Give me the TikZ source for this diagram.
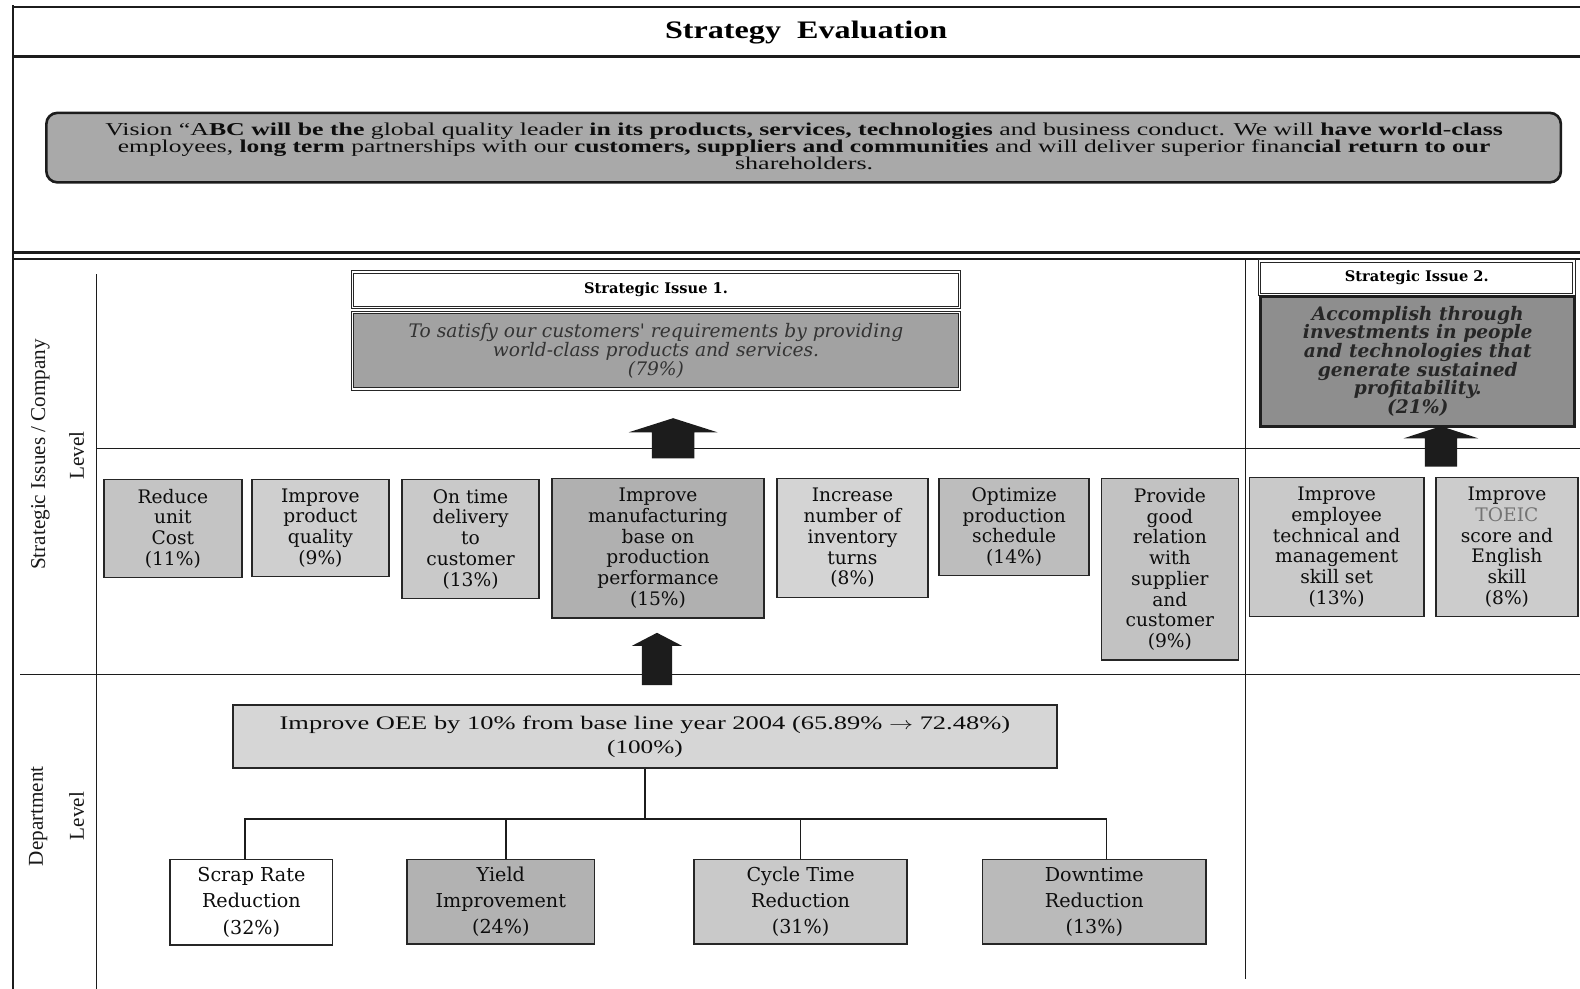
\documentclass[tikz,border=0pt]{standalone}
\usepackage{fontspec}
\setmainfont{Liberation Serif}
\newfontfamily\bkfont{DejaVu Serif}
\usetikzlibrary{calc}

\definecolor{ink}{HTML}{1C1C1C}
\definecolor{visionfill}{HTML}{A9A9A9}
\definecolor{sionefill}{HTML}{A2A2A2}
\definecolor{sitwofill}{HTML}{8E8E8E}
\definecolor{oeefill}{HTML}{D6D6D6}

% stretch a line of text to a given width, keeping its height
\newcommand{\fitw}[2]{\resizebox{#1}{\height}{#2}}
% solid up-pointing block arrow: x, bottom y, shaft half width, head half width, head base y, tip y
\newcommand{\blkarrow}[6]{%
  \fill[ink] ({#1-#3},#2) -- ({#1-#3},#5) -- ({#1-#4},#5) -- (#1,#6)
    -- ({#1+#4},#5) -- ({#1+#3},#5) -- ({#1+#3},#2) -- cycle;}

\begin{document}
\begin{tikzpicture}[x=1pt,y=-1pt,
  rule/.style={draw=ink, line width=1.2pt},
  wire/.style={draw=ink, line width=1.3pt},
  cbox/.style={draw=black!85, line width=1.6pt, align=center, inner sep=0pt,
    font=\bkfont\fontsize{18.5}{20.6}\selectfont, text=black!95},
  dbox/.style={draw=black!85, line width=1.6pt, align=center, inner sep=0pt,
    font=\bkfont\fontsize{19}{26}\selectfont, text=black!95},
  dblbox/.style={draw=black!85, double=white, double distance=1.4pt,
    line width=1pt, inner sep=0pt, align=center},
  sidelabel/.style={rotate=90, font=\fontsize{21}{22}\selectfont, text=black!90}
]
\useasboundingbox (0,0) rectangle (1568,981);
\fill[white] (0,0) rectangle (1568,981);

% ---------- frame and section rules ----------
\draw[ink, line width=2pt] (12,7) -- (1568,7);
\draw[ink, line width=3pt] (12,56) -- (1568,56);
\draw[ink, line width=2.6pt] (13,5) -- (13,981);
\draw[ink, line width=3pt] (13,251) -- (1568,251);
\draw[ink, line width=1.5pt] (13,257) -- (1568,257);
\draw[rule] (96,272) -- (96,981);
\draw[rule] (96,445) -- (1568,445);
\draw[rule] (20,669) -- (1568,669);
\draw[rule] (1236,258) -- (1236,972);

% ---------- title ----------
\node[font=\bfseries\fontsize{25}{25}\selectfont] (title) at (800,32)
  {\fitw{280pt}{Strategy\enspace Evaluation}};

% ---------- vision ----------
\node[draw=ink, line width=2.6pt, fill=visionfill, rounded corners=11pt,
  minimum width=1503pt, minimum height=69pt, inner sep=0pt] (vision) at (797.5,146.5) {};
\node[align=center, inner sep=0pt, text=black!95,
  font=\fontsize{18}{16.5}\selectfont] (visiontext) at (798,145)
  {\fitw{1387pt}{Vision “A\textbf{BC will be the} global quality leader \textbf{in its products, services, technologies} and business conduct. We will \textbf{have world-class}}\\
   \fitw{1362pt}{employees, \textbf{long term} partnerships with our \textbf{customers, suppliers and communities} and will deliver superior finan\textbf{cial return to our}}\\
   \fitw{137pt}{shareholders.}};

% ---------- side labels ----------
\node[sidelabel] (lblstrat) at (40,451) {Strategic Issues / Company};
\node[sidelabel] (lblstratlv) at (76,452) {Level};
\node[sidelabel] (lbldept) at (38,810) {Department};
\node[sidelabel] (lbldeptlv) at (76,810) {Level};

% ---------- strategic issue 1 ----------
\node[dblbox, fill=white, minimum width=602pt, minimum height=35pt,
  font=\bkfont\bfseries\fontsize{14.5}{16}\selectfont] (sionehead) at (651,287.5) {Strategic Issue 1.};
\node[dblbox, fill=sionefill, minimum width=602pt, minimum height=76pt, text=black!80,
  font=\bkfont\itshape\fontsize{18.5}{19}\selectfont] (sionebody) at (651,348)
  {To satisfy our customers' requirements by providing\\world-class products and services.\\(79\%)};

% ---------- strategic issue 2 ----------
\node[dblbox, fill=white, minimum width=312pt, minimum height=33pt,
  font=\bkfont\bfseries\fontsize{14.5}{16}\selectfont] (sitwohead) at (1406,275.5) {Strategic Issue 2.};
\node[draw=black!88, line width=3pt, fill=sitwofill, minimum width=312pt, minimum height=129pt,
  inner sep=0pt, align=center, text=black!85,
  font=\bkfont\bfseries\itshape\fontsize{18.5}{18.6}\selectfont] (sitwobody) at (1407,358.5)
  {Accomplish through\\investments in people\\and technologies that\\generate sustained\\profitability.\\(21\%)};

% ---------- company level objectives ----------
\node[cbox, fill=black!23, minimum width=137pt, minimum height=97pt] (c1) at (171.5,524.5)
  {Reduce\\unit\\Cost\\(11\%)};
\node[cbox, fill=black!19, minimum width=136pt, minimum height=96pt] (c2) at (318,524)
  {Improve\\product\\quality\\(9\%)};
\node[cbox, fill=black!21, minimum width=136pt, minimum height=118pt] (c3) at (467,535)
  {On time\\delivery\\to\\customer\\(13\%)};
\node[cbox, fill=black!31, minimum width=210pt, minimum height=138pt] (c4) at (653,544)
  {Improve\\manufacturing\\base on\\production\\performance\\(15\%)};
\node[cbox, fill=black!17, minimum width=150pt, minimum height=118pt] (c5) at (846,534)
  {Increase\\number of\\inventory\\turns\\(8\%)};
\node[cbox, fill=black!26, minimum width=149pt, minimum height=96pt] (c6) at (1006.5,523)
  {Optimize\\production\\schedule\\(14\%)};
\node[cbox, fill=black!24, minimum width=136pt, minimum height=180pt] (c7) at (1161,565)
  {Provide\\good\\relation\\with\\supplier\\and\\customer\\(9\%)};
\node[cbox, fill=black!21, minimum width=173pt, minimum height=138pt] (c8) at (1326.5,543)
  {Improve\\employee\\technical and\\management\\skill set\\(13\%)};
\node[cbox, fill=black!20, minimum width=141pt, minimum height=138pt] (c9) at (1495.5,543)
  {Improve\\\textcolor{black!55}{TOEIC}\\score and\\English\\skill\\(8\%)};

% ---------- department level ----------
\node[draw=black!85, line width=1.8pt, fill=oeefill, minimum width=818pt, minimum height=62pt,
  inner sep=0pt, align=center, text=black!95, font=\fontsize{19}{24}\selectfont] (oee) at (640,731)
  {\fitw{725pt}{Improve OEE by 10\% from base line year 2004 (65.89\% $\rightarrow$ 72.48\%)}\\\fitw{75pt}{(100\%)}};

\node[dbox, fill=white, minimum width=161pt, minimum height=85pt] (scrap) at (249.5,895.5)
  {Scrap Rate\\Reduction\\(32\%)};
\node[dbox, fill=black!30, minimum width=186pt, minimum height=84pt] (yield) at (497,895)
  {Yield\\Improvement\\(24\%)};
\node[dbox, fill=black!21, minimum width=211pt, minimum height=84pt] (cycle) at (794.5,895)
  {Cycle Time\\Reduction\\(31\%)};
\node[dbox, fill=black!27, minimum width=222pt, minimum height=84pt] (down) at (1086,895)
  {Downtime\\Reduction\\(13\%)};

% tree connectors: trunk, one bus, four drops
\draw[wire] (oee.south) -- ++(0,50) coordinate (busmid);
\path (scrap.north) ++(-6.5,0) coordinate (dropa)
      (yield.north) ++(5,0) coordinate (dropb)
      (cycle.north) coordinate (dropc)
      (down.north) ++(12,0) coordinate (dropd);
\draw[wire] (dropa) -- (dropa |- busmid) -- (dropd |- busmid) -- (dropd);
\draw[wire] (dropb) -- (dropb |- busmid);
\draw[wire] (dropc) -- (dropc |- busmid);

% ---------- block arrows ----------
\blkarrow{668}{455}{21}{44}{429}{415}
\blkarrow{652}{680}{15}{25}{641}{628}
\blkarrow{1430}{463}{16}{37}{435}{423}
\end{tikzpicture}
\end{document}
